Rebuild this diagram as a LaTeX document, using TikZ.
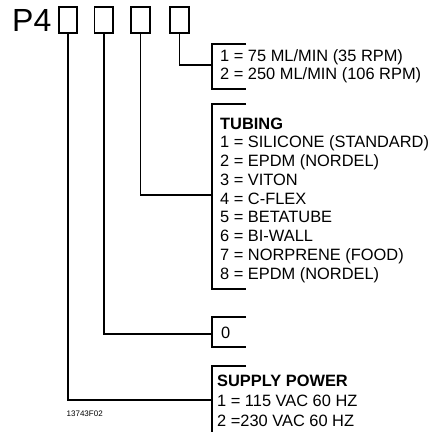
\documentclass[tikz,border=0pt]{standalone}
\usepackage{fontspec}
\setmainfont{Liberation Sans}
\usetikzlibrary{positioning, calc}

\begin{document}
\begin{tikzpicture}[
  x=1pt, y=-1pt,
  digit/.style={draw, line width=1.6pt, minimum width=18.5pt,
                minimum height=26.5pt, inner sep=0pt},
  conn/.style={line width=1.6pt},
  brk/.style={line width=1.6pt},
  opts/.style={anchor=base west, inner sep=0pt, align=left,
               font=\fontsize{16.4}{#1}\selectfont},
  opts/.default=18.75
]
\useasboundingbox (0,0) rectangle (434,432);

% Model code
\node[anchor=base west, inner sep=0pt, font=\fontsize{32}{36}\selectfont]
  (P4) at (12,31.5) {P4};
\node[digit] (b1) at (68,20)    {};
\node[digit] (b2) at (103.7,20) {};
\node[digit] (b3) at (140.5,20) {};
\node[digit] (b4) at (179.5,20) {};

% Bracket 1: speed (base = last line)
\coordinate (k1) at (212,65);
\draw[brk] (246,44) -| (212,89) -- (246,89);
\node[opts=18] (o1) at (220,79)
  {1 = 75 ML/MIN (35 RPM)\\2 = 250 ML/MIN (106 RPM)};

% Bracket 2: tubing
\coordinate (k2) at (212,195);
\draw[brk] (246,104) -| (212,289) -- (246,289);
\node[opts] (o2) at (220,279)
  {\textbf{TUBING}\\1 = SILICONE (STANDARD)\\2 = EPDM (NORDEL)\\3 = VITON\\
   4 = C-FLEX\\5 = BETATUBE\\6 = BI-WALL\\7 = NORPRENE (FOOD)\\8 = EPDM (NORDEL)};

% Bracket 3: fixed
\coordinate (k3) at (212,334);
\draw[brk] (246,317) -| (212,347) -- (246,347);
\node[opts] (o3) at (221,338) {0};

% Bracket 4: supply power
\coordinate (k4) at (212,400);
\draw[brk] (246,366) -| (212,432);
\node[opts=20] (o4) at (217,426)
  {\textbf{SUPPLY POWER}\\1 = 115 VAC 60 HZ\\2 =230 VAC 60 HZ};

% Connectors
\draw[conn] (b4.south) |- (k1);
\draw[conn] (b3.south) |- (k2);
\draw[conn] (b2.south) |- (k3);
\draw[conn] (b1.south) |- (k4);

% Drawing number
\node[anchor=base west, inner sep=0pt, font=\fontsize{8}{10}\selectfont]
  (fig) at (66.5,416) {13743F02};
\end{tikzpicture}
\end{document}
